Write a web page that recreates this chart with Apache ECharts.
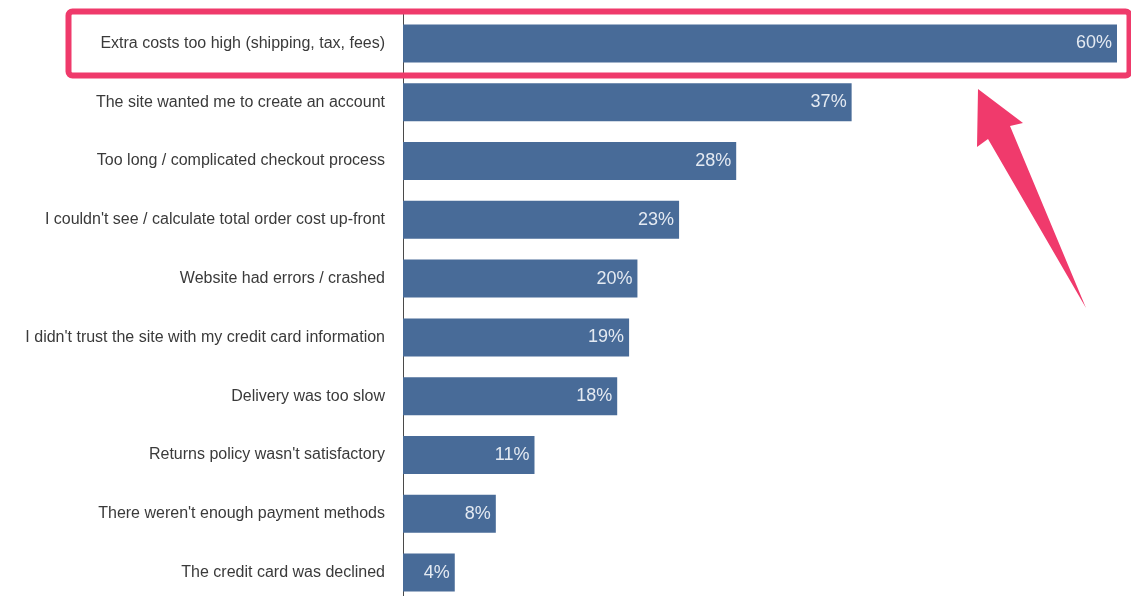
<!DOCTYPE html>
<html>
<head>
<meta charset="utf-8">
<script src="https://cdn.jsdelivr.net/npm/echarts@6/dist/echarts.min.js"></script>
<style>
  html, body { margin: 0; padding: 0; background: #fff; overflow: hidden; }
  #chart { width: 1131px; height: 610px; }
</style>
</head>
<body>
<div id="chart"></div>
<script>
// Reasons for abandoning checkout (top to bottom)
const reasons = [
  'Extra costs too high (shipping, tax, fees)',
  'The site wanted me to create an account',
  'Too long / complicated checkout process',
  "I couldn't see / calculate total order cost up-front",
  'Website had errors / crashed',
  "I didn't trust the site with my credit card information",
  'Delivery was too slow',
  "Returns policy wasn't satisfactory",
  "There weren't enough payment methods",
  'The credit card was declined'
];
// bar lengths (percent)
const shares = [60, 37.7, 28, 23.2, 19.7, 19, 18, 11.05, 7.8, 4.35];
// printed labels on the bars
const shareLabels = ['60%', '37%', '28%', '23%', '20%', '19%', '18%', '11%', '8%', '4%'];

const chart = echarts.init(document.getElementById('chart'));

const option = {
  animation: false,
  backgroundColor: '#ffffff',
  grid: {
    left: 403,
    top: 14,
    width: 714,
    height: 588
  },
  xAxis: {
    type: 'value',
    min: 0,
    max: 60,
    show: false
  },
  yAxis: {
    type: 'category',
    data: reasons,
    inverse: true,
    axisLine: { show: true, lineStyle: { color: '#4a4a4a', width: 1 } },
    axisTick: { show: false },
    axisLabel: {
      margin: 18,
      fontFamily: 'Liberation Sans, Arial, sans-serif',
      fontSize: 16,
      color: '#3a3a3a'
    }
  },
  series: [
    {
      type: 'bar',
      data: shares,
      barWidth: 38,
      itemStyle: { color: '#486b98' },
      label: {
        show: true,
        position: 'insideRight',
        distance: 5,
        fontFamily: 'Liberation Sans, Arial, sans-serif',
        fontSize: 18,
        color: '#e4eaf2',
        formatter: function (p) {
          return shareLabels[p.dataIndex];
        }
      }
    }
  ],
  graphic: [
    {
      type: 'rect',
      shape: { x: 68.5, y: 11.5, width: 1061, height: 64, r: 4 },
      style: { fill: 'none', stroke: '#ef3a6b', lineWidth: 6 },
      z: 10
    },
    {
      type: 'polygon',
      shape: {
        points: [
          [978, 89],
          [1023, 123],
          [1010, 126],
          [1086, 308],
          [988, 139],
          [977, 147]
        ]
      },
      style: { fill: '#f03a6c' },
      z: 10
    }
  ]
};

chart.setOption(option);
</script>
</body>
</html>
